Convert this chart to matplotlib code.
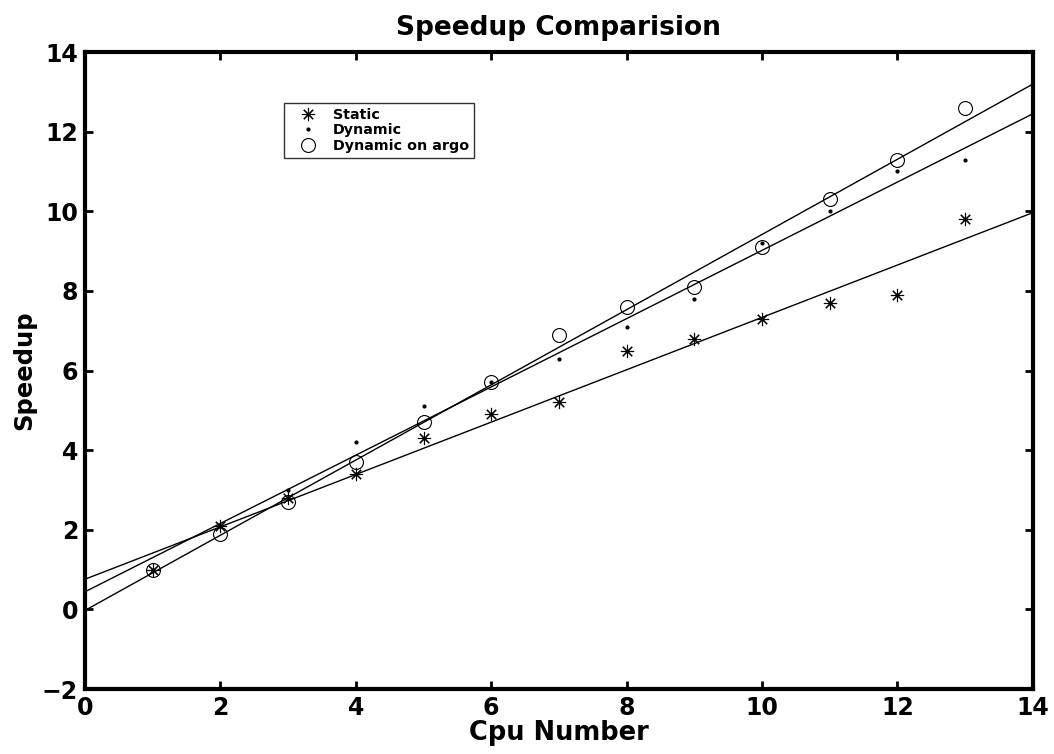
import numpy as np
import matplotlib.pyplot as plt

plt.rcParams['font.family'] = ['DejaVu Sans']
plt.rcParams['font.weight'] = 'bold'

cpus = np.arange(1, 14)
static = [1.0, 2.1, 2.8, 3.4, 4.3, 4.9, 5.2, 6.5, 6.8, 7.3, 7.7, 7.9, 9.8]
dynamic = [1.0, 2.1, 3.0, 4.2, 5.1, 5.7, 6.3, 7.1, 7.8, 9.2, 10.0, 11.0, 11.3]
argo = [1.0, 1.9, 2.7, 3.7, 4.7, 5.7, 6.9, 7.6, 8.1, 9.1, 10.3, 11.3, 12.6]

fig = plt.figure(figsize=(10.54, 7.54), dpi=100)
ax = fig.add_axes([0.0806, 0.0862, 0.8994, 0.8448])

ax.plot(cpus, static, marker=(8, 2, 0), ls='none', color='k', ms=9.5, mew=0.8, label='Static')
ax.plot(cpus, dynamic, '.', color='k', ms=4, label='Dynamic')
ax.plot(cpus, argo, 'o', color='k', ms=10, mew=0.8, mfc='none', label='Dynamic on argo')

# least-squares lines, drawn across the full x range
xx = np.array([0, 14])
for ys in (static, dynamic, argo):
    p = np.polyfit(cpus, ys, 1)
    ax.plot(xx, np.polyval(p, xx), color='k', lw=1)

ax.set_xlim(0, 14)
ax.set_ylim(-2, 14)
ax.set_xticks(np.arange(0, 15, 2))
ax.set_yticks(np.arange(-2, 15, 2))
ax.tick_params(direction='in', length=6, width=2, labelsize=17, top=True, right=True, pad=5)
for s in ax.spines.values():
    s.set_linewidth(3)
for lbl in ax.get_xticklabels() + ax.get_yticklabels():
    lbl.set_fontweight('bold')

ax.set_xlabel('Cpu Number', fontsize=18.5, fontweight='bold', labelpad=0)
ax.set_ylabel('Speedup', fontsize=17.5, fontweight='bold', labelpad=4)
ax.set_title('Speedup Comparision', fontsize=19, fontweight='bold', pad=12)

leg = ax.legend(loc='upper left', bbox_to_anchor=(0.21, 0.92),
                frameon=True, fancybox=False, edgecolor='k', borderpad=0.35,
                labelspacing=0.1, handletextpad=0.45, handlelength=2.6,
                borderaxespad=0, prop={'weight': 'bold', 'size': 10.3})
leg.get_frame().set_linewidth(1)

fig.savefig('out.png', dpi=100)
